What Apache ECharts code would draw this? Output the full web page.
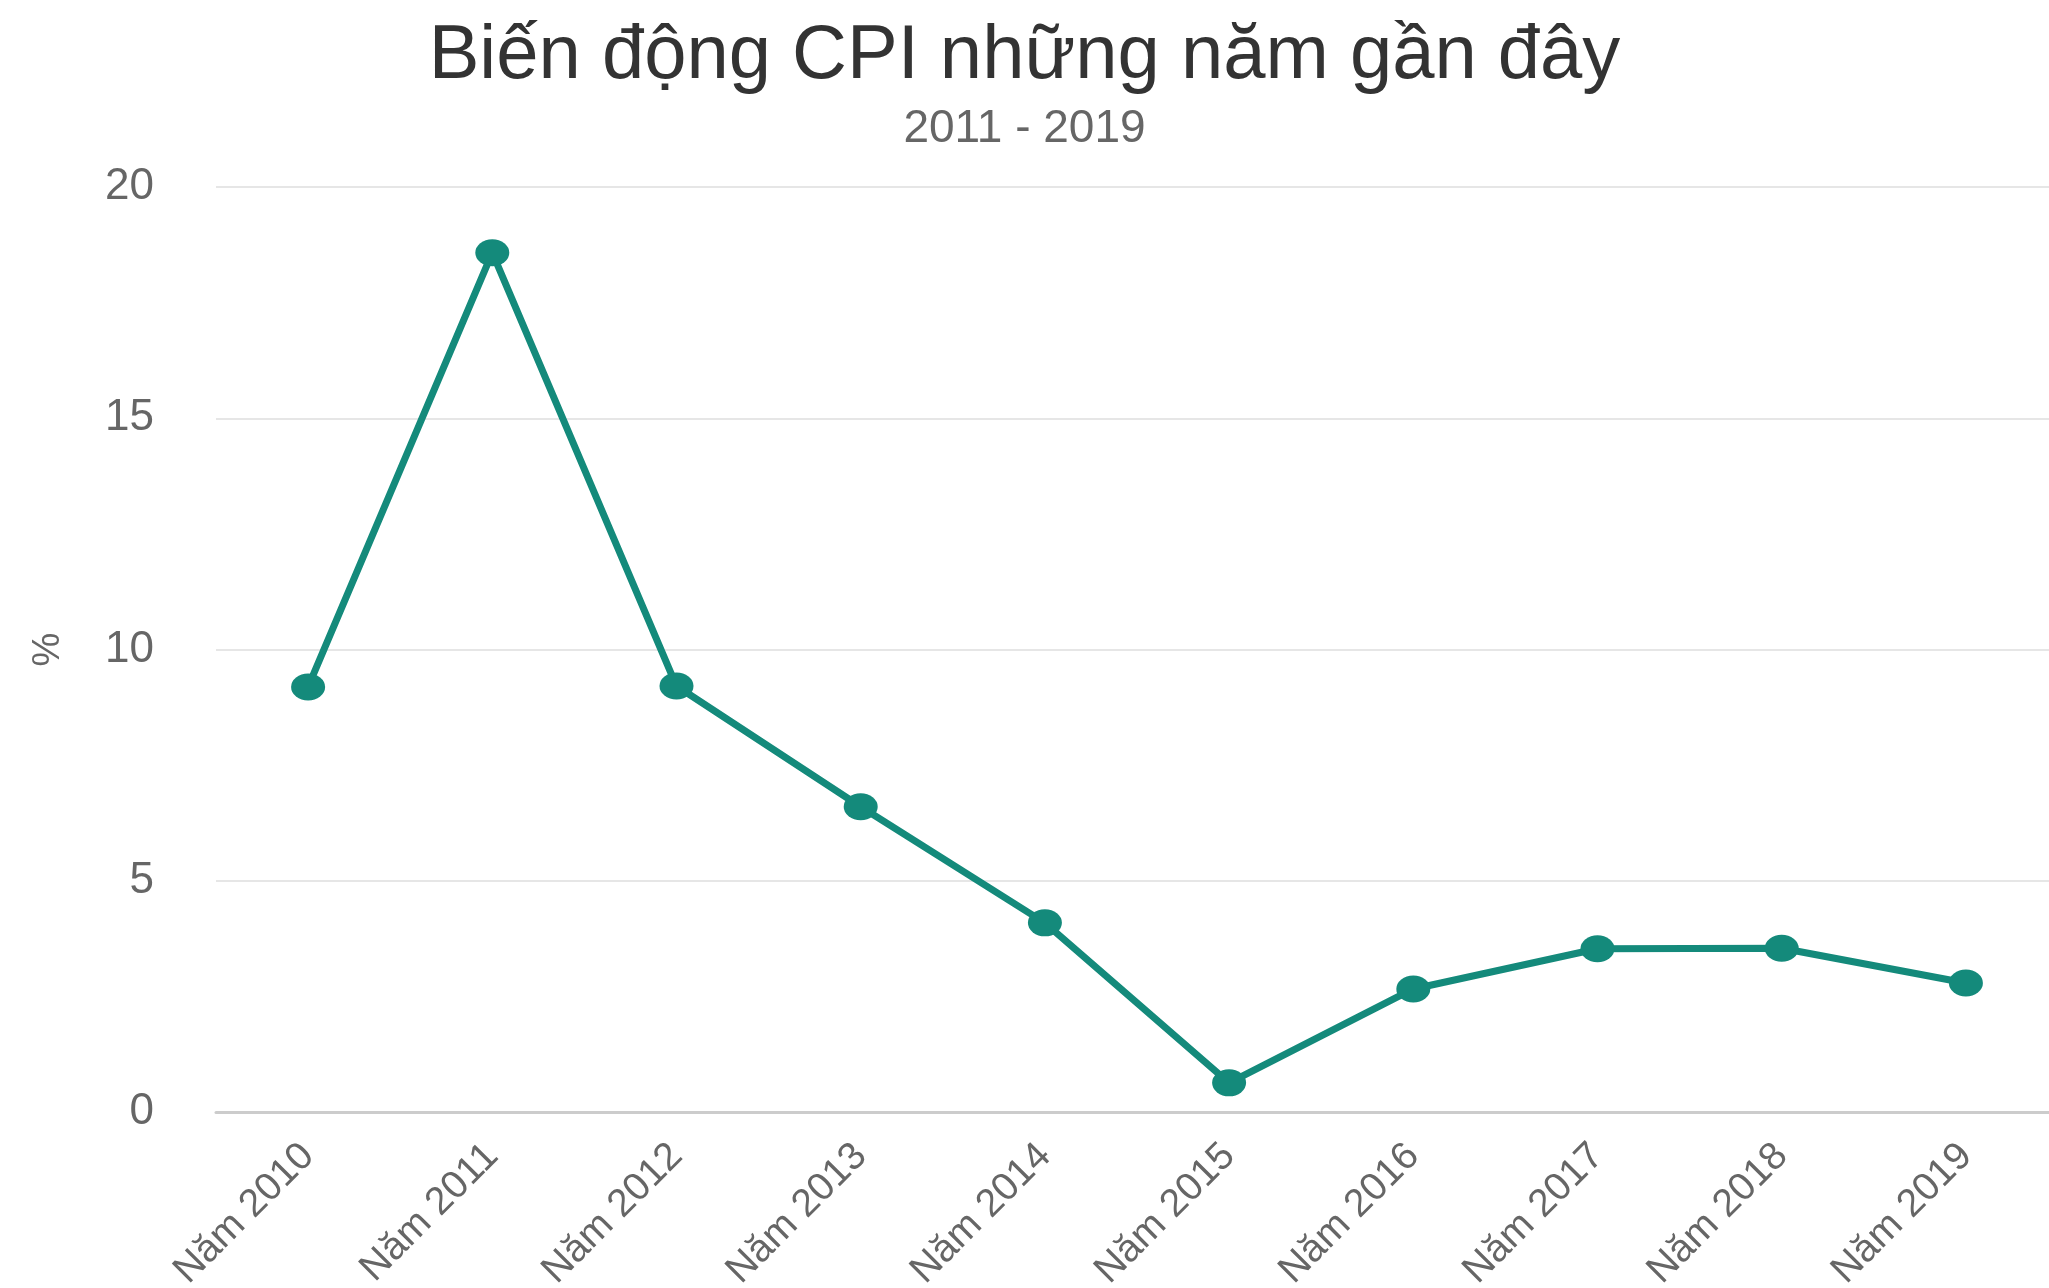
<!DOCTYPE html>
<html>
<head>
<meta charset="utf-8">
<title>Biến động CPI</title>
<script src="https://cdn.jsdelivr.net/npm/echarts@6/dist/echarts.min.js"></script>
<style>
  html, body { margin: 0; padding: 0; background: #fff; }
  #main { width: 2049px; height: 1288px; }
</style>
</head>
<body>
<div id="main"></div>
<script>
var years = ['Năm 2010', 'Năm 2011', 'Năm 2012', 'Năm 2013', 'Năm 2014',
             'Năm 2015', 'Năm 2016', 'Năm 2017', 'Năm 2018', 'Năm 2019'];
var cpi = [9.19, 18.58, 9.21, 6.6, 4.09, 0.63, 2.66, 3.53, 3.54, 2.79];

var myChart = echarts.init(document.getElementById('main'));
var font = '"Liberation Sans", Arial, sans-serif';

var option = {
    backgroundColor: '#fff',
    title: [
        {
            text: 'Biến động CPI những năm gần đây',
            left: 'center',
            top: 14,
            textStyle: { fontFamily: font, fontSize: 76, fontWeight: 'normal', color: '#333' }
        },
        {
            text: '2011 - 2019',
            left: 'center',
            top: 101,
            textStyle: { fontFamily: font, fontSize: 46, fontWeight: 'normal', color: '#666' }
        }
    ],
    grid: {
        left: 216,
        right: -9,
        top: 187,
        bottom: 176,
        outerBoundsMode: 'none'
    },
    xAxis: {
        type: 'category',
        data: years,
        boundaryGap: true,
        axisLine: { lineStyle: { color: '#cccccc', width: 3 } },
        axisTick: { length: 30, lineStyle: { color: '#cccccc', width: 3 } },
        axisLabel: {
            rotate: 45,
            margin: 38,
            interval: 0,
            fontFamily: font,
            fontSize: 39,
            color: '#666'
        }
    },
    yAxis: {
        type: 'value',
        min: 0,
        max: 20,
        interval: 5,
        name: '%',
        nameLocation: 'middle',
        nameGap: 148,
        nameTextStyle: { fontFamily: font, fontSize: 38, color: '#666' },
        axisLine: { show: false },
        axisTick: { show: false },
        axisLabel: { margin: 62, fontFamily: font, fontSize: 44, color: '#666' },
        splitLine: { lineStyle: { color: '#e6e6e6', width: 2 } }
    },
    series: [
        {
            name: 'CPI',
            type: 'line',
            data: cpi,
            symbol: 'circle',
            symbolSize: [34, 27],
            itemStyle: { color: '#148a7b' },
            lineStyle: { color: '#148a7b', width: 7 },
            label: { show: false }
        }
    ],
    animation: false
};

myChart.setOption(option);
</script>
</body>
</html>
